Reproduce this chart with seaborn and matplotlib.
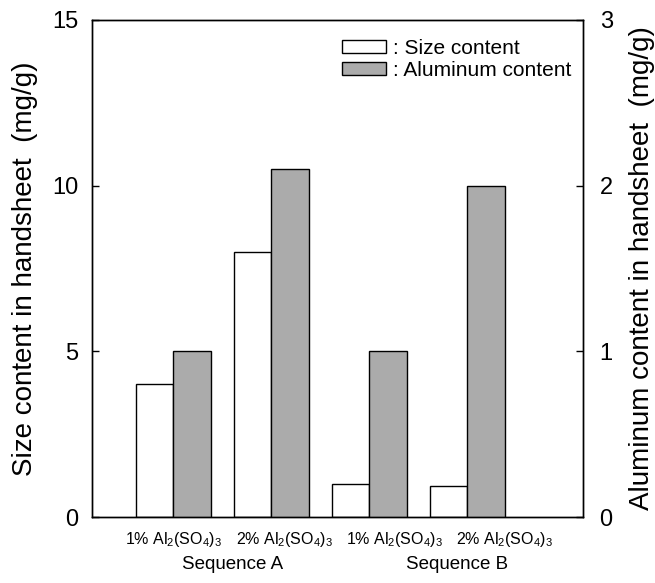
import matplotlib
matplotlib.use("Agg")
import matplotlib.pyplot as plt
from matplotlib.patches import Patch
import matplotlib.transforms as mtransforms
import numpy as np
import pandas as pd
import seaborn as sns

# Treatments (x categories) and sequences
treatments = ["1% Al$_2$(SO$_4$)$_3$", "2% Al$_2$(SO$_4$)$_3$",
              "1% Al$_2$(SO$_4$)$_3$ ", "2% Al$_2$(SO$_4$)$_3$ "]
sequences = ["Sequence A", "Sequence B"]

# Measured contents (mg/g)
size_content = [4.0, 8.0, 1.0, 0.95]
aluminum_content = [1.0, 2.1, 1.0, 2.0]

series = ["Size", "Aluminum"]

sns.set_theme(style="ticks")
plt.rcParams["font.family"] = ["Liberation Sans", "DejaVu Sans"]
plt.rcParams["mathtext.fontset"] = "custom"
plt.rcParams["mathtext.rm"] = "Liberation Sans"
plt.rcParams["mathtext.it"] = "Liberation Sans"
for key in ("text.color", "axes.labelcolor", "xtick.color", "ytick.color",
            "axes.edgecolor"):
    plt.rcParams[key] = "black"

fig = plt.figure(figsize=(6.55, 5.83), dpi=100)
ax = fig.add_axes([0.1405, 0.1132, 0.7495, 0.8525])
ax2 = ax.twinx()

size_df = pd.DataFrame({
    "treatment": treatments * 2,
    "series": ["Size"] * 4 + ["Aluminum"] * 4,
    "value": size_content + [np.nan] * 4,
})
al_df = pd.DataFrame({
    "treatment": treatments * 2,
    "series": ["Size"] * 4 + ["Aluminum"] * 4,
    "value": [np.nan] * 4 + aluminum_content,
})

white = "#ffffff"
gray = "#ababab"

sns.barplot(data=size_df, x="treatment", y="value", hue="series",
            hue_order=series, order=treatments, palette=[white, gray],
            width=0.76, edgecolor="black", linewidth=1.0, saturation=1,
            errorbar=None, legend=False, ax=ax)
sns.barplot(data=al_df, x="treatment", y="value", hue="series",
            hue_order=series, order=treatments, palette=[white, gray],
            width=0.76, edgecolor="black", linewidth=1.0, saturation=1,
            errorbar=None, legend=False, ax=ax2)

ax.set_xlim(-0.83, 4.18)
ax.set_ylim(0, 15)
ax2.set_ylim(0, 3)
ax.set_yticks([0, 5, 10, 15])
ax2.set_yticks([0, 1, 2, 3])

for a in (ax, ax2):
    for s in a.spines.values():
        s.set_visible(True)
        s.set_linewidth(1.0)
        s.set_color("black")

ax.tick_params(axis="y", direction="in", length=5, width=1, labelsize=17, pad=10)
ax2.tick_params(axis="y", direction="in", length=5, width=1, labelsize=17, pad=12)

# Treatment labels, evenly spread beneath the bar pairs
label_pos = [0.0, 1.14, 2.26, 3.38]
ax.set_xticks(label_pos, treatments)
ax.tick_params(axis="x", length=0, labelsize=11.5, pad=9)

ax.set_xlabel("")
ax.set_ylabel("Size content in handsheet  (mg/g)", fontsize=20, labelpad=10)
ax2.set_ylabel("Aluminum content in handsheet  (mg/g)", fontsize=20,
               rotation=90, labelpad=12)

# Sequence labels beneath the treatment labels
trans = mtransforms.blended_transform_factory(ax.transData, ax.transAxes)
for xpos, name in zip([0.6, 2.9], sequences):
    ax.text(xpos, -0.095, name, transform=trans, ha="center", va="center",
            fontsize=13.5)

handles = [Patch(facecolor=white, edgecolor="black", linewidth=1.0),
           Patch(facecolor=gray, edgecolor="black", linewidth=1.0)]
ax2.legend(handles, [": Size content", ": Aluminum content"],
           loc="upper right", bbox_to_anchor=(1.0, 0.985), frameon=False,
           fontsize=15, handlelength=2.1, handleheight=0.55,
           handletextpad=0.35, labelspacing=0.15, borderaxespad=0.15)

fig.savefig("out.png", dpi=100)
